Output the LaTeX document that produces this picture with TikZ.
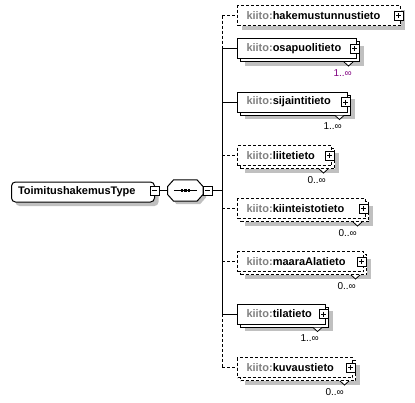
\documentclass[tikz,border=0pt]{standalone}
\usepackage{fontspec}
\setmainfont{Liberation Sans}
\usetikzlibrary{shadows,calc}
\definecolor{shgray}{HTML}{C0C0C0}
\definecolor{pfx}{HTML}{808080}
\definecolor{multpurple}{HTML}{800080}
\tikzset{
  elbox/.style={draw, line width=1pt, fill=white, minimum height=20pt, inner xsep=9pt, inner ysep=0pt,
    anchor=north west, align=left, font=\fontsize{11}{13}\selectfont},
  opt/.style={dash pattern=on 3pt off 2pt},
  single/.style={general shadow={fill=shgray, draw=none, shadow xshift=4pt, shadow yshift=-4pt}},
  multisolid/.style={general shadow={fill=shgray, draw=none, shadow xshift=7pt, shadow yshift=-7pt},
    general shadow={fill=white, draw=black, solid, line width=1pt, shadow xshift=3pt, shadow yshift=-3pt}},
  multidash/.style={general shadow={fill=shgray, draw=none, shadow xshift=7pt, shadow yshift=-7pt},
    general shadow={fill=white, draw=black, opt, line width=1pt, shadow xshift=3pt, shadow yshift=-3pt}},
  plusbox/.style={draw, solid, line width=0.9pt, fill=white, minimum size=9pt, inner sep=0pt,
    path picture={\draw[line width=0.9pt] ([xshift=2pt]path picture bounding box.west) -- ([xshift=-2pt]path picture bounding box.east);
      \draw[line width=0.9pt] ([yshift=-2pt]path picture bounding box.north) -- ([yshift=2pt]path picture bounding box.south);}},
  minusbox/.style={draw, solid, line width=0.9pt, fill=white, minimum size=9pt, inner sep=0pt,
    path picture={\draw[line width=0.9pt] ([xshift=2pt]path picture bounding box.west) -- ([xshift=-2pt]path picture bounding box.east);}},
  mult/.style={font=\fontsize{10}{12}\selectfont, inner sep=0pt, anchor=base east},
  conn/.style={line width=1pt},
  notch/.style={fill=white, solid, line width=0.8pt},
}
\newcommand{\pfxname}[1]{\textbf{\textcolor{pfx}{kiito:}#1}}
\begin{document}
\begin{tikzpicture}[x=1pt, y=-1pt]
\useasboundingbox (0,0) rectangle (415,402);

% root type
\node[draw, line width=1pt, rounded corners=4pt, fill=white, minimum height=20pt, inner xsep=6.5pt, inner ysep=0pt,
  text width=130pt, align=left, anchor=north west, font=\fontsize{11}{13}\selectfont,
  general shadow={fill=shgray, draw=none, shadow xshift=4pt, shadow yshift=-4pt}] (root) at (11,181.5) {\textbf{ToimitushakemusType}};
\node[minusbox] (rootm) at ($(root.east)+(-0.5,-1.5)$) {};

% sequence compositor
\node[minimum width=35pt, minimum height=21pt, inner sep=0pt] (seq) at (185.3,190.5) {};
\fill[shgray] ($(seq.west)+(3,-1)$) -- ($(seq.north west)+(9,3)$) -- ($(seq.north east)+(-3,3)$) -- ($(seq.east)+(3,-1)$)
  -- ($(seq.east)+(3,7)$) -- ($(seq.south east)+(-3,3)$) -- ($(seq.south west)+(9,3)$) -- ($(seq.west)+(3,7)$) -- cycle;
\draw[line width=1pt, fill=white] ($(seq.west)+(0,-4)$) -- ($(seq.north west)+(6,0)$) -- ($(seq.north east)+(-6,0)$) -- ($(seq.east)+(0,-4)$)
  -- ($(seq.east)+(0,4)$) -- ($(seq.south east)+(-6,0)$) -- ($(seq.south west)+(6,0)$) -- ($(seq.west)+(0,4)$) -- cycle;
\draw[line width=1pt] ($(seq.center)+(-11.5,0)$) -- ($(seq.center)+(11.5,0)$);
\foreach \dx in {-3.5,0,3.5} \fill ($(seq.center)+(\dx-1.3,-1.3)$) rectangle ($(seq.center)+(\dx+1.3,1.3)$);
\node[minusbox] (seqm) at ($(seq.east)+(4.7,0)$) {};

\coordinate (spine) at (222,0);

% elements
\node[elbox, opt, single, text width=145pt] (hak) at (237,5) {\pfxname{hakemustunnustieto}};
\node[elbox, multisolid, text width=101pt] (osa) at (237,38) {\pfxname{osapuolitieto}};
\node[elbox, multisolid, text width=92pt] (sij) at (237,91.5) {\pfxname{sijaintitieto}};
\node[elbox, opt, multidash, text width=76pt] (lii) at (237,145) {\pfxname{liitetieto}};
\node[elbox, opt, multidash, text width=110pt] (kii) at (237,198) {\pfxname{kiinteistotieto}};
\node[elbox, opt, multidash, text width=108pt] (maa) at (237,251) {\pfxname{maaraAlatieto}};
\node[elbox, multisolid, text width=70pt] (til) at (237,303.5) {\pfxname{tilatieto}};
\node[elbox, opt, multidash, text width=97pt] (kuv) at (237,357) {\pfxname{kuvaustieto}};

% plus boxes
\foreach \n in {hak,osa,sij,lii,kii,maa,til,kuv}
  \node[plusbox] (\n p) at ($(\n.east)+(-2.5,0)$) {};

% notches
\foreach \n in {osa,sij,lii,kii,maa,til,kuv}
  \draw[notch] ([shift={(-13,3)}]\n.south east) -- ++(4.5,4) -- ++(4.5,-4);

% multiplicities
\node[mult, text=multpurple] (osam) at ([shift={(-5,17)}]osa.south east) {1..∞};
\node[mult] (sijm) at ([shift={(-6,17)}]sij.south east) {1..∞};
\node[mult] (liim) at ([shift={(-6,17)}]lii.south east) {0..∞};
\node[mult] (kiim) at ([shift={(-9,17)}]kii.south east) {0..∞};
\node[mult] (maam) at ([shift={(-8,17)}]maa.south east) {0..∞};
\node[mult] (tilm) at ([shift={(-7,17)}]til.south east) {1..∞};
\node[mult] (kuvm) at ([shift={(-9,17)}]kuv.south east) {0..∞};

% connectors
\draw[conn] (rootm.east) -- (seq.west);
\draw[conn] (seqm.east) -- (seqm.east -| spine);
\draw[conn, opt] (hak.west -| spine) -- (osa.west -| spine);
\draw[conn] (osa.west -| spine) -- (til.west -| spine);
\draw[conn, opt] (til.west -| spine) -- (kuv.west -| spine);
\draw[conn, opt] (hak.west -| spine) -- (hak.west);
\draw[conn] (osa.west -| spine) -- (osa.west);
\draw[conn] (sij.west -| spine) -- (sij.west);
\draw[conn, opt] (lii.west -| spine) -- (lii.west);
\draw[conn, opt] (kii.west -| spine) -- (kii.west);
\draw[conn, opt] (maa.west -| spine) -- (maa.west);
\draw[conn] (til.west -| spine) -- (til.west);
\draw[conn, opt] (kuv.west -| spine) -- (kuv.west);
\end{tikzpicture}
\end{document}
